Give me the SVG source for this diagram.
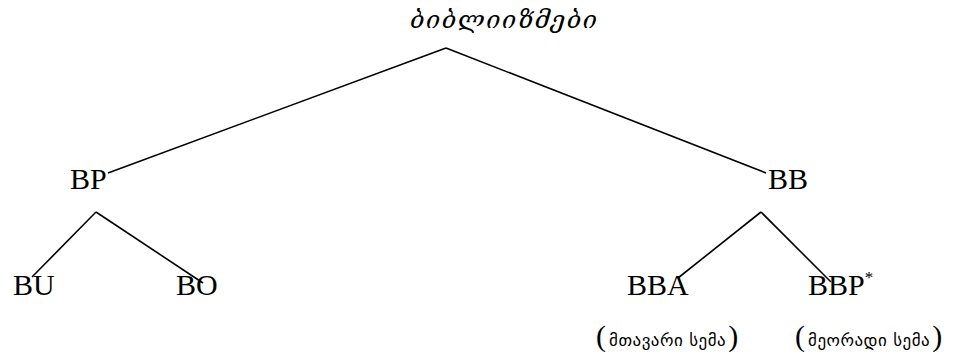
<svg xmlns="http://www.w3.org/2000/svg" width="953" height="359" viewBox="0 0 953 359">
<style>
.n{font-family:"Liberation Serif","DejaVu Serif",serif;font-size:30px;fill:#000}
.g{font-family:"DejaVu Sans","DejaVu Serif",sans-serif;font-size:17px;letter-spacing:0.5px;fill:#000}
.p{font-family:"Liberation Serif",serif;font-size:30px;fill:#000}
.t{font-family:"DejaVu Serif","DejaVu Sans",serif;font-style:italic;font-size:25px;letter-spacing:1.5px;fill:#000}
line{stroke:#000;stroke-width:1.6}
</style>
<rect width="953" height="359" fill="#fff"/>
<g id="connectors">
<line x1="446" y1="48" x2="108" y2="173"/>
<line x1="446" y1="48" x2="766" y2="173"/>
<line x1="96" y1="212" x2="32" y2="277"/>
<line x1="96" y1="212" x2="203" y2="283"/>
<line x1="761" y1="212" x2="678" y2="278"/>
<line x1="761" y1="212" x2="831" y2="282"/>
</g>
<g id="root"><text class="t" x="410" y="28">ბიბლიიზმები</text></g>
<g id="BP"><text class="n" x="70" y="189">BP</text></g>
<g id="BB"><text class="n" x="768" y="189">BB</text></g>
<g id="BU"><text class="n" x="13" y="295">BU</text></g>
<g id="BO"><text class="n" x="176" y="295">BO</text></g>
<g id="BBA"><text class="n" x="627" y="295">BBA</text></g>
<g id="BBP"><text class="n" x="808" y="295">BBP<tspan font-size="17" dy="-12">*</tspan></text></g>
<g id="label1"><text x="596" y="346"><tspan class="p">(</tspan><tspan class="g" dx="3">მთავარი სემა</tspan><tspan class="p" dx="2">)</tspan></text></g>
<g id="label2"><text x="795" y="346"><tspan class="p">(</tspan><tspan class="g" dx="3">მეორადი სემა</tspan><tspan class="p" dx="2">)</tspan></text></g>
</svg>
